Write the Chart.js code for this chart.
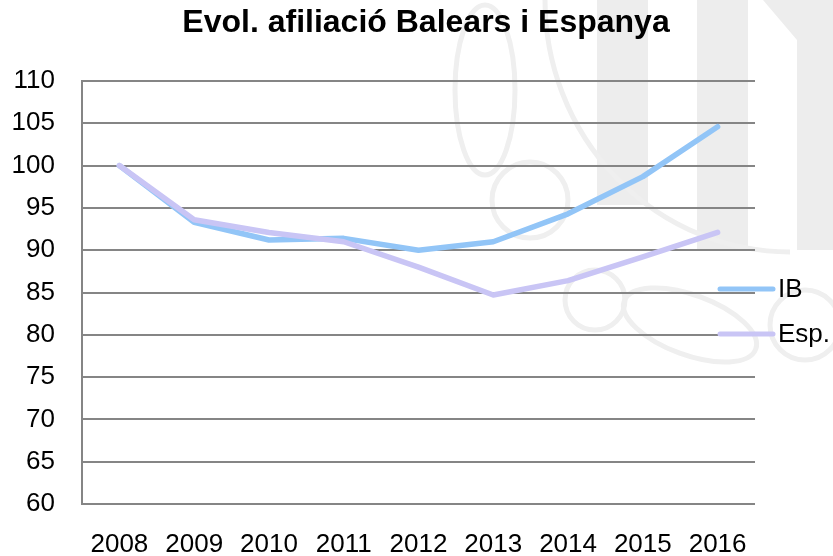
<!DOCTYPE html>
<html>
<head>
<meta charset="utf-8">
<script src="https://cdn.jsdelivr.net/npm/chart.js@4.4.1/dist/chart.umd.min.js"></script>
<style>
  html, body { margin: 0; padding: 0; background: #fff; }
  #wrap { width: 833px; height: 556px; position: relative; }
</style>
</head>
<body>
<div id="wrap"><canvas id="chart"></canvas></div>
<script>
// Data
const years = ['2008', '2009', '2010', '2011', '2012', '2013', '2014', '2015', '2016'];
const ibValues = [100, 93.3, 91.2, 91.4, 90.0, 91.0, 94.3, 98.7, 104.6];
const espValues = [100, 93.6, 92.1, 91.0, 88.0, 84.7, 86.4, 89.2, 92.1];
const seriesNames = ['IB', 'Esp.'];
const yMin = 60, yMax = 110, yStep = 5;

const FONT = "'Liberation Sans', Arial, sans-serif";
const gridColor = '#858585';
const ibColor = '#92c5f7';
const espColor = '#c9c5f5';

// faint logo watermark behind the chart
const watermark = {
    id: 'watermark',
    beforeDraw(chart) {
        const ctx = chart.ctx;
        ctx.save();
        ctx.fillStyle = '#ededed';
        ctx.strokeStyle = '#efefef';
        ctx.fillRect(597, 0, 51, 205);
        ctx.fillRect(697, 0, 51, 250);
        ctx.beginPath();
        ctx.moveTo(763, 0);
        ctx.lineTo(833, 0);
        ctx.lineTo(833, 250);
        ctx.lineTo(797, 250);
        ctx.lineTo(797, 40);
        ctx.closePath();
        ctx.fill();
        ctx.lineWidth = 5;
        ctx.beginPath();
        ctx.ellipse(790, 0, 245, 252, 0, Math.PI * 0.5, Math.PI);
        ctx.stroke();
        ctx.beginPath();
        ctx.ellipse(485, 90, 30, 85, 0, 0, Math.PI * 2);
        ctx.stroke();
        ctx.beginPath();
        ctx.arc(530, 200, 38, 0, Math.PI * 2);
        ctx.stroke();
        ctx.beginPath();
        ctx.arc(595, 300, 30, 0, Math.PI * 2);
        ctx.stroke();
        ctx.beginPath();
        ctx.ellipse(690, 325, 70, 30, 0.35, 0, Math.PI * 2);
        ctx.stroke();
        ctx.beginPath();
        ctx.arc(805, 325, 35, 0, Math.PI * 2);
        ctx.stroke();
        ctx.restore();
    }
};

// legend drawn over the right end of the plot, like the original
const sideLegend = {
    id: 'sideLegend',
    afterDraw(chart) {
        const ctx = chart.ctx;
        const a = chart.chartArea;
        const x0 = a.right - 35, x1 = a.right + 18;
        const rows = [
            { name: seriesNames[0], color: ibColor, y: a.top + 208 },
            { name: seriesNames[1], color: espColor, y: a.top + 253 }
        ];
        ctx.save();
        rows.forEach(r => {
            ctx.strokeStyle = r.color;
            ctx.lineWidth = 5;
            ctx.lineCap = 'round';
            ctx.beginPath();
            ctx.moveTo(x0, r.y);
            ctx.lineTo(x1, r.y);
            ctx.stroke();
            ctx.fillStyle = '#000';
            ctx.font = '26px ' + FONT;
            ctx.textBaseline = 'middle';
            ctx.textAlign = 'left';
            ctx.fillText(r.name, x1 + 5, r.y + 1);
        });
        ctx.restore();
    }
};

new Chart(document.getElementById('chart'), {
    type: 'line',
    data: {
        labels: years,
        datasets: [
            {
                label: seriesNames[0], data: ibValues, order: 1,
                borderColor: ibColor, borderWidth: 5.5,
                borderCapStyle: 'round', borderJoinStyle: 'round',
                pointRadius: 0, tension: 0, fill: false
            },
            {
                label: seriesNames[1], data: espValues, order: 0,
                borderColor: espColor, borderWidth: 5.5,
                borderCapStyle: 'round', borderJoinStyle: 'round',
                pointRadius: 0, tension: 0, fill: false
            }
        ]
    },
    options: {
        responsive: true,
        maintainAspectRatio: false,
        animation: false,
        // negative right padding only nudges the centred title to where the original has it
        layout: { padding: { left: 0, right: -19, top: 4, bottom: 0 } },
        plugins: {
            legend: { display: false },
            tooltip: { enabled: false },
            title: {
                display: true,
                text: 'Evol. afiliació Balears i Espanya',
                color: '#000',
                font: { family: FONT, size: 32, weight: 'bold' },
                padding: { top: 0, bottom: 38.6 }
            }
        },
        scales: {
            x: {
                offset: true,
                grid: { display: false, drawTicks: false },
                border: { display: false },
                ticks: { color: '#000', font: { family: FONT, size: 26 }, padding: 25, maxRotation: 0, autoSkip: false },
                afterFit: s => { s.height = 52; }
            },
            y: {
                min: yMin, max: yMax,
                grid: { color: gridColor, lineWidth: 2, drawTicks: false },
                border: { display: true, color: gridColor, width: 2 },
                ticks: { stepSize: yStep, color: '#000', font: { family: FONT, size: 26 }, padding: 27 },
                afterFit: s => { s.width = 82; }
            },
            yRight: {
                position: 'right',
                display: true,
                grid: { display: false, drawTicks: false },
                border: { display: false },
                ticks: { display: false },
                afterFit: s => { s.width = 97; }
            }
        }
    },
    plugins: [watermark, sideLegend]
});
</script>
</body>
</html>
